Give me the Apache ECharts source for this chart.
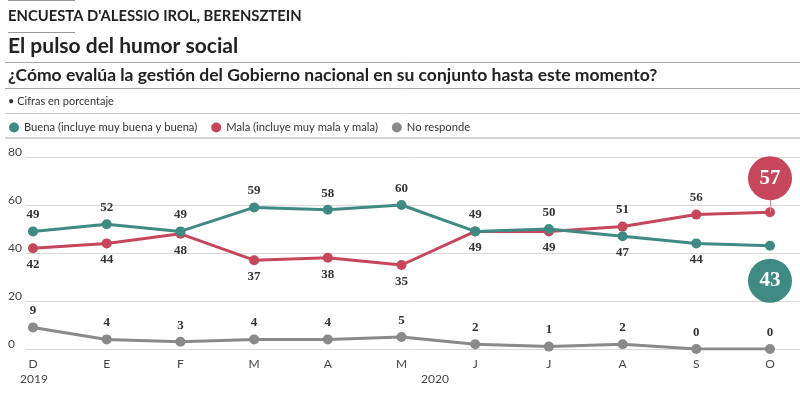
<!DOCTYPE html>
<html><head><meta charset="utf-8">
<script src="https://cdn.jsdelivr.net/npm/echarts@6/dist/echarts.min.js"></script>
<style>html,body{margin:0;padding:0;background:#fff}#c{width:800px;height:395px}</style>
</head><body><div id="c"></div>
<script>
const categories = ['D','E','F','M','A','M','J','J','A','S','O'];
const buena = [49,52,49,59,58,60,49,50,47,44,43];
const mala = [42,44,48,37,38,35,49,49,51,56,57];
const noResponde = [9,4,3,4,4,5,2,1,2,0,0];
const buenaLabelPos = ['top','top','top','top','top','top','top','top','bottom','bottom',null];
const malaLabelPos = ['bottom','bottom','bottom','bottom','bottom','bottom','bottom','bottom','top','top',null];
const yTicks = [0,20,40,60,80];
const seriesNames = ['Buena (incluye muy buena y buena)','Mala (incluye muy mala y mala)','No responde'];
const yearLabels = [{text:'2019', x:20}, {text:'2020', x:421}];

const GREEN = '#3f8a82', RED = '#c6475c', GRAY = '#8a8a8a';
const SANS = 'Lato, "Open Sans", sans-serif';
const SERIF = '"Liberation Serif", "DejaVu Serif", serif';
const lblStyle = {show:true, fontFamily:SERIF, fontWeight:'bold', fontSize:13, color:'#333', distance:5};

function withLabels(vals, pos){
  return vals.map((v,i)=> pos[i] ? {value:v, label:Object.assign({}, lblStyle, {position:pos[i]})} : {value:v, label:{show:false}});
}
const last = categories.length - 1;

const chart = echarts.init(document.getElementById('c'), null, {renderer:'canvas'});
const hline = (y, x1, x2, color, w) => ({type:'line', shape:{x1:x1,y1:y,x2:x2,y2:y}, style:{stroke:color, lineWidth:w}, silent:true});
chart.setOption({
  animation:false,
  textStyle:{fontFamily:SANS},
  graphic:[
    hline(0.5, 8, 75, '#999', 1),
    {type:'text', left:8, top:9, style:{text:"ENCUESTA D'ALESSIO IROL, BERENSZTEIN", font:'bold 14.8px '+SANS, fill:'#222'}},
    hline(32.5, 8, 75, '#999', 1),
    {type:'text', left:8, top:36, style:{text:'El pulso del humor social', font:'bold 21px '+SANS, fill:'#222'}},
    hline(62.5, 5, 800, '#aaa', 1),
    {type:'text', left:8, top:66, style:{text:'¿Cómo evalúa la gestión del Gobierno nacional en su conjunto hasta este momento?', font:'bold 17.5px '+SANS, fill:'#222'}},
    hline(88.5, 5, 800, '#aaa', 1),
    {type:'text', left:8, top:96, style:{text:'• Cifras en porcentaje', font:'11px '+SANS, fill:'#333'}},
    hline(113.5, 5, 800, '#c8c8c8', 1),
    hline(138, 5, 800, '#d4d4d4', 2),
  ].concat(yearLabels.map(y=>({type:'text', left:y.x, top:373, style:{text:y.text, font:'12px '+SANS, fill:'#444'}}))),
  legend:{
    left:9, top:122, padding:0, icon:'circle', itemWidth:10, itemHeight:10, itemGap:14,
    textStyle:{fontFamily:SANS, fontSize:11.2, color:'#333'},
    data:seriesNames
  },
  grid:[
    {left:25, right:0, top:157, bottom:46},
    {left:33, right:30, top:157, bottom:46}
  ],
  xAxis:[
    {gridIndex:0, type:'value', show:false, min:0, max:1},
    {gridIndex:1, type:'category', data:categories, boundaryGap:false,
     axisLine:{show:false}, axisTick:{show:false},
     axisLabel:{fontFamily:SANS, fontSize:12, color:'#444', margin:9}}
  ],
  yAxis:[
    {gridIndex:0, type:'value', min:0, max:80, interval:20,
     axisLine:{show:false}, axisTick:{show:false},
     splitLine:{lineStyle:{color:'#d9d9d9', width:1}},
     axisLabel:{fontFamily:SANS, fontSize:12, color:'#444', align:'left', margin:17, verticalAlign:'bottom', padding:[0,0,-1,0]}},
    {gridIndex:1, type:'value', min:0, max:80, interval:20, show:false, splitLine:{show:false}}
  ],
  series:[
    {name:seriesNames[0], type:'line', xAxisIndex:1, yAxisIndex:1, data:withLabels(buena, buenaLabelPos),
     color:GREEN, lineStyle:{width:3, color:GREEN}, symbol:'circle', symbolSize:10, itemStyle:{color:GREEN}, z:4,
     markPoint:{symbol:'circle', symbolSize:44, silent:true,
       itemStyle:{color:GREEN, borderColor:'#fff', borderWidth:0},
       label:{show:true, color:'#fff', fontFamily:SERIF, fontWeight:'bold', fontSize:21, formatter:String(buena[last])},
       data:[{coord:[last, buena[last]], symbolOffset:[0, 35]}]}},
    {name:seriesNames[1], type:'line', xAxisIndex:1, yAxisIndex:1, data:withLabels(mala, malaLabelPos),
     color:RED, lineStyle:{width:3, color:RED}, symbol:'circle', symbolSize:10, itemStyle:{color:RED}, z:3,
     markLine:{symbol:'none', silent:true, label:{show:false}, lineStyle:{color:'#d88a96', width:1, type:'solid'},
       data:[[{coord:[last, mala[last]]},{coord:[last, mala[last]+5]}]]},
     markPoint:{symbol:'circle', symbolSize:44, silent:true,
       itemStyle:{color:RED},
       label:{show:true, color:'#fff', fontFamily:SERIF, fontWeight:'bold', fontSize:21, formatter:String(mala[last])},
       data:[{coord:[last, mala[last]], symbolOffset:[0, -34]}]}},
    {name:seriesNames[2], type:'line', xAxisIndex:1, yAxisIndex:1,
     data:noResponde.map(v=>({value:v, label:Object.assign({}, lblStyle, {position:'top'})})),
     color:GRAY, lineStyle:{width:3, color:GRAY}, symbol:'circle', symbolSize:10, itemStyle:{color:GRAY}, z:2},
    {type:'line', xAxisIndex:0, yAxisIndex:0, data:[], silent:true}
  ]
});
</script></body></html>
